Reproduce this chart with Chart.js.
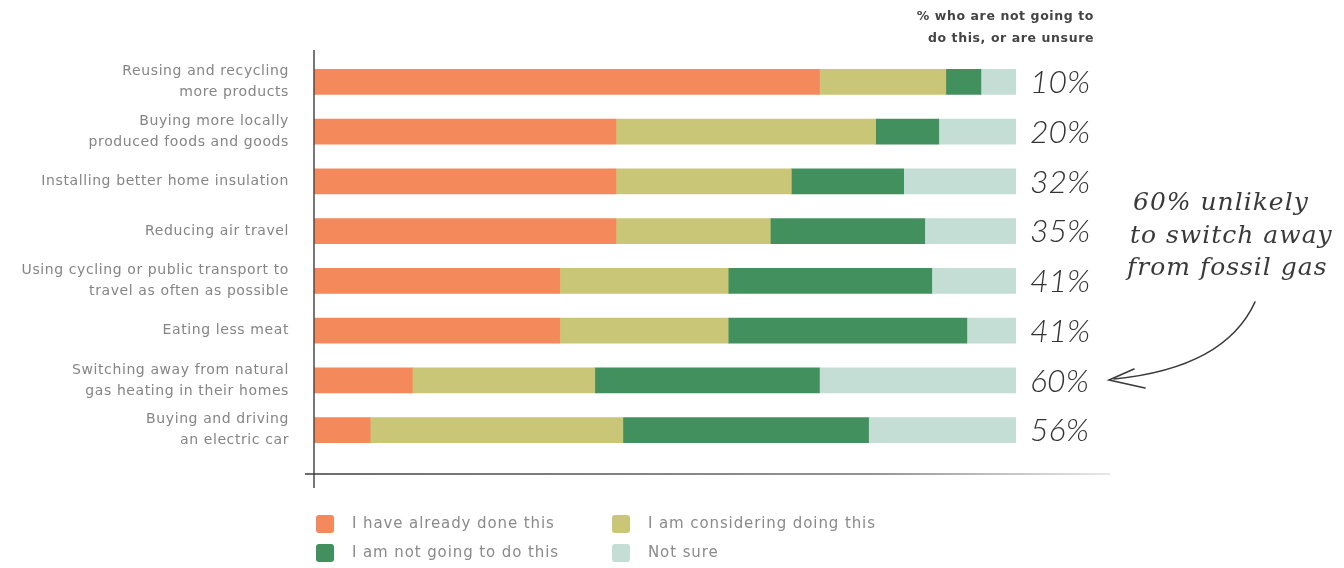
<!DOCTYPE html>
<html>
<head>
<meta charset="utf-8">
<title>Climate actions</title>
<script src="https://cdn.jsdelivr.net/npm/chart.js@4.4.1/dist/chart.umd.min.js"></script>
<style>
  html, body { margin: 0; padding: 0; background: #fff; }
  #wrap { width: 1344px; height: 568px; position: relative; }
</style>
</head>
<body>
<div id="wrap"><canvas id="actionsChart"></canvas></div>
<script>
// survey answers, % of respondents per action
var actions = [
  ['Reusing and recycling', 'more products'],
  ['Buying more locally', 'produced foods and goods'],
  'Installing better home insulation',
  'Reducing air travel',
  ['Using cycling or public transport to', 'travel as often as possible'],
  'Eating less meat',
  ['Switching away from natural', 'gas heating in their homes'],
  ['Buying and driving', 'an electric car']
];
var alreadyDone = [72, 43, 43, 43, 35, 35, 14, 8];
var considering = [18, 37, 25, 22, 24, 24, 26, 36];
var notGoing    = [5, 9, 16, 22, 29, 34, 32, 35];
var notSure     = [5, 11, 16, 13, 12, 7, 28, 21];

var answerNames = ['I have already done this', 'I am considering doing this', 'I am not going to do this', 'Not sure'];
var answerColors = ['#F4895C', '#C9C677', '#43905F', '#C4DED6'];

var headerLines = ['% who are not going to', 'do this, or are unsure'];
var noteLines = ['60% unlikely', 'to switch away', 'from fossil gas'];

var extras = {
  id: 'extras',
  beforeDraw: function (chart) {
    // the category labels are set a little loose
    chart.ctx.letterSpacing = '0.6px';
  },
  afterDraw: function (chart) {
    var c = chart.ctx;
    var area = chart.chartArea;
    var y = chart.scales.y;
    c.save();
    c.letterSpacing = '0px';

    // axis lines
    c.strokeStyle = '#4a4a4a';
    c.lineWidth = 1.5;
    c.beginPath();
    c.moveTo(area.left, 50);
    c.lineTo(area.left, 488);
    c.stroke();
    var g = c.createLinearGradient(305, 0, 1110, 0);
    g.addColorStop(0, 'rgba(50,50,50,0.95)');
    g.addColorStop(0.7, 'rgba(50,50,50,0.7)');
    g.addColorStop(1, 'rgba(50,50,50,0.15)');
    c.strokeStyle = g;
    c.beginPath();
    c.moveTo(305, 474);
    c.lineTo(1110, 474);
    c.stroke();

    // header above the totals
    c.fillStyle = '#444';
    c.font = 'bold 12.5px "DejaVu Sans"';
    c.letterSpacing = '0.6px';
    c.textAlign = 'right';
    c.textBaseline = 'middle';
    c.fillText(headerLines[0], 1094, 17);
    c.fillText(headerLines[1], 1094, 39);

    // totals of "not going" + "not sure"
    c.fillStyle = '#333';
    c.font = 'italic 300 32px Lato';
    c.letterSpacing = '0px';
    c.textAlign = 'left';
    for (var i = 0; i < actions.length; i++) {
      var total = notGoing[i] + notSure[i];
      c.fillText(total + '%', 1030, y.getPixelForValue(i) + 1);
    }

    // handwritten note and arrow
    c.fillStyle = '#3a3a3a';
    c.font = 'italic 25px "DejaVu Serif"';
    c.letterSpacing = '1px';
    c.fillText(noteLines[0], 1133, 203);
    c.fillText(noteLines[1], 1130, 236);
    c.fillText(noteLines[2], 1127, 268);

    c.strokeStyle = '#3a3a3a';
    c.lineWidth = 1.6;
    c.lineCap = 'round';
    c.beginPath();
    c.moveTo(1255, 302);
    c.quadraticCurveTo(1225, 368, 1114, 379);
    c.stroke();
    c.beginPath();
    c.moveTo(1134, 369);
    c.lineTo(1109, 380);
    c.lineTo(1145, 388);
    c.stroke();

    // legend, two columns
    var cols = [316, 612];
    var rows = [524, 553];
    c.font = '15px "DejaVu Sans"';
    c.letterSpacing = '0.9px';
    for (var k = 0; k < answerNames.length; k++) {
      var lx = cols[k % 2];
      var ly = rows[Math.floor(k / 2)];
      c.fillStyle = answerColors[k];
      c.beginPath();
      c.roundRect(lx, ly - 9, 18, 18, 3);
      c.fill();
      c.fillStyle = '#8a8a8a';
      c.fillText(answerNames[k], lx + 36, ly);
    }
    c.restore();
  }
};

var values = [alreadyDone, considering, notGoing, notSure];
var datasets = values.map(function (d, i) {
  return {
    label: answerNames[i],
    data: d,
    backgroundColor: answerColors[i],
    borderWidth: 0,
    barThickness: 25
  };
});

new Chart(document.getElementById('actionsChart'), {
  type: 'bar',
  data: { labels: actions, datasets: datasets },
  options: {
    indexAxis: 'y',
    responsive: true,
    maintainAspectRatio: false,
    animation: false,
    layout: { padding: { left: 0, right: 328, top: 57, bottom: 113 } },
    plugins: {
      legend: { display: false },
      tooltip: { enabled: false }
    },
    scales: {
      x: {
        stacked: true,
        min: 0,
        max: 100,
        display: false
      },
      y: {
        stacked: true,
        grid: { display: false, drawTicks: false },
        border: { display: false },
        afterFit: function (scale) { scale.width = 314; },
        ticks: {
          padding: 25,
          color: '#858585',
          font: { family: 'DejaVu Sans', size: 14, lineHeight: 1.5 }
        }
      }
    }
  },
  plugins: [extras]
});
</script>
</body>
</html>
